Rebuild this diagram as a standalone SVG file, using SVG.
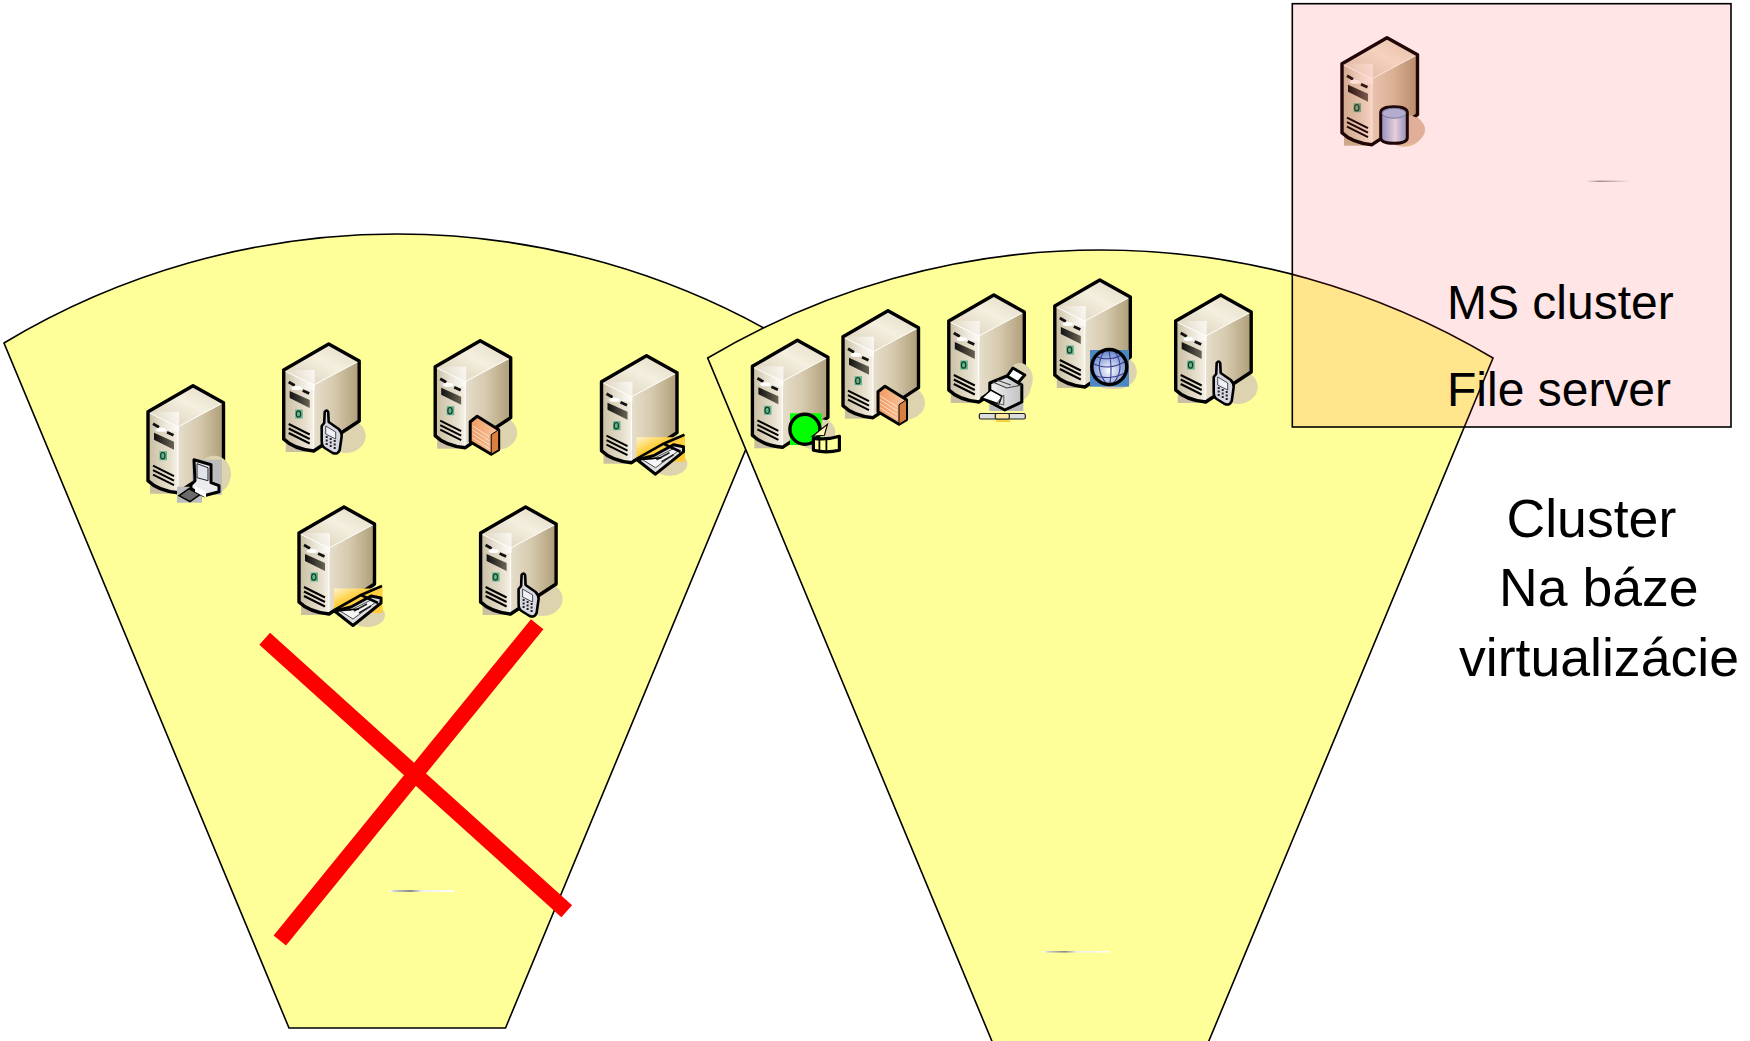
<svg xmlns="http://www.w3.org/2000/svg" xmlns:xlink="http://www.w3.org/1999/xlink" width="1750" height="1041" viewBox="0 0 1750 1041">
<style>
.fan{fill:#ffff99;stroke:#000;stroke-width:1.6}
.txt{font-family:"Liberation Sans",Arial,sans-serif;fill:#000}
.t48{font-size:48px}
.t53{font-size:53.6px}
.out{stroke:#000;stroke-width:3.4;stroke-linejoin:round;fill:none}
.ic{stroke:#000;stroke-width:3;stroke-linejoin:round}
.x{stroke:#f00;stroke-width:16;fill:none}
.vent{stroke:#000;stroke-width:2;fill:none}
.mer{stroke:#3c3c90;stroke-width:1.100;fill:none}
</style>
<defs>
<linearGradient id="gTop" x1="0" y1="1" x2="1" y2="0"><stop offset="0" stop-color="#d6cbb3"/><stop offset=".55" stop-color="#f4efdf"/><stop offset="1" stop-color="#e0d8c2"/></linearGradient>
<linearGradient id="gRight" x1="0" y1="0" x2="1" y2="0"><stop offset="0" stop-color="#e6decb"/><stop offset=".45" stop-color="#d6caae"/><stop offset="1" stop-color="#ae9d78"/></linearGradient>
<linearGradient id="gFront" x1="0" y1="0" x2="1" y2="0"><stop offset="0" stop-color="#c9bea2"/><stop offset=".75" stop-color="#e8e1cf"/><stop offset="1" stop-color="#f6f2e8"/></linearGradient>
<linearGradient id="gSq" x1="0" y1="0" x2="1" y2="0"><stop offset="0" stop-color="#fff" stop-opacity="0"/><stop offset="1" stop-color="#fff" stop-opacity=".7"/></linearGradient>
<linearGradient id="gBay" x1="0" y1="0" x2="1" y2="0"><stop offset="0" stop-color="#111"/><stop offset="1" stop-color="#6a6454"/></linearGradient>
<linearGradient id="gEnv" x1="0" y1="0" x2=".6" y2=".6"><stop offset="0" stop-color="#fff4cc"/><stop offset=".65" stop-color="#ffcc33"/></linearGradient>
<linearGradient id="gCyl" x1="0" y1="0" x2="1" y2="0"><stop offset="0" stop-color="#7f9ad0"/><stop offset=".55" stop-color="#e6e6f2"/><stop offset="1" stop-color="#7f9ad0"/></linearGradient>
<linearGradient id="gFw" x1="0" y1="0" x2="1" y2="0"><stop offset="0" stop-color="#f09a60"/><stop offset="1" stop-color="#f8c8a0"/></linearGradient>
<linearGradient id="gPr" x1="0" y1="0" x2="1" y2="0"><stop offset="0" stop-color="#fff"/><stop offset="1" stop-color="#c0c0c0"/></linearGradient>
<linearGradient id="gArt" x1="0" y1="0" x2="1" y2="0"><stop offset="0" stop-color="#fff"/><stop offset=".08" stop-color="#ccc"/><stop offset=".33" stop-color="#888"/><stop offset=".5" stop-color="#eee"/><stop offset="1" stop-color="#fff"/></linearGradient>
<linearGradient id="gArtP" x1="0" y1="0" x2="1" y2="0"><stop offset="0" stop-color="#ffe5e5"/><stop offset=".3" stop-color="#a08888"/><stop offset="1" stop-color="#ffe5e5"/></linearGradient>
<radialGradient id="gGlobe" cx=".5" cy=".6" r=".6"><stop offset="0" stop-color="#fff"/><stop offset="1" stop-color="#5a80c8"/></radialGradient>
<filter id="tint" x="-10%" y="-10%" width="120%" height="120%"><feColorMatrix type="matrix" values="1 0 0 0 0  0 .94 0 0 0  0 0 .88 0 0  0 0 0 1 0"/></filter>

<g id="server">
<ellipse cx="62" cy="92" rx="20" ry="17" fill="#ddd3ae"/>
<rect x="2" y="84" width="30" height="24" fill="#c9bfa2"/>
<path d="M0,26 L45,0 L75.500,17 L30,41 Z" fill="url(#gTop)"/>
<path d="M30,41 L75.500,17 V77 L30,107 Z" fill="url(#gRight)"/>
<path d="M0,26 L30,41 V107 Q10,105 0,95 Z" fill="url(#gFront)"/>
<rect x="2" y="26" width="29" height="20" fill="url(#gSq)"/>
<path d="M1,27 L30,41 L75.500,17" fill="none" stroke="#fff" stroke-width="1"/>
<path d="M30,41 V106" fill="none" stroke="#fff" stroke-width="1"/>
<path d="M5,38 L11,41.500 M19,46.500 L25.500,49.500" stroke="#111" stroke-width="2.800" fill="none"/>
<path d="M6,47 L26,56 V64 L6,54 Z" fill="url(#gBay)"/>
<ellipse cx="13" cy="44" rx="5" ry="2" fill="#fff"/>
<rect x="11.500" y="65.500" width="7.500" height="9" fill="#5fb48a"/>
<ellipse cx="14.800" cy="70" rx="2.200" ry="3.200" fill="none" stroke="#1a3a2a" stroke-width="1.200"/>
<path class="vent" d="M5,80 L26,90.500 M5,84.500 L26,95 M5,89 L26,99.500"/>
<path class="out" d="M0,26 L45,0 L75.500,17 V77 L30,107 Q10,105 0,95 Z"/>
</g>

<g id="phone">
<path class="ic" style="stroke-width:2.600" fill="#d8d8e2" d="M40.500,79 L41,68 Q43,65 44.500,68 L45,78 L55,85 Q58,88 58,92 L56,106 Q54,111 49,109 L41,104 Q38,102 38,97 L38,82 Z"/>
<path d="M42,82 L52,88 V95 L42,90 Z" fill="#eef2f6" stroke="#222" stroke-width=".8"/>
<path d="M42,93 h2 M46,95 h2 M50,97 h2 M42,96.500 h2 M46,98.500 h2 M50,100.500 h2 M42,100 h2 M46,102 h2 M50,104 h2" stroke="#222" stroke-width="2" fill="none"/>
</g>

<g id="firewall">
<path d="M56,112 L66,106 L66,98 L56,96 Z" fill="#d8ceb0"/>
<path class="ic" fill="url(#gFw)" d="M35,81 L42,75.500 L63.500,89 V109 L56,113.500 L35,101 Z"/>
<path d="M56,94 L63.500,89 V109 L56,113.500 Z" fill="#d88040" stroke="#000" stroke-width="1"/>
<path d="M37,85 L54,96 M37,89 L54,100 M37,93 L54,104 M37,97 L54,108" stroke="#fff" stroke-opacity=".6" stroke-width="1" fill="none"/>
</g>

<g id="fax">
<ellipse cx="68" cy="108" rx="18" ry="12" fill="#ddd3ae"/>
<rect x="35" y="81.500" width="48.500" height="24.500" fill="url(#gEnv)"/>
<path d="M36,104 L62,88 L83,79 V97 L76,102 Z" fill="#ffd040"/>
<path class="ic" fill="#e0e0e0" d="M35.500,104 L54,118.500 L82,96 V91 L72,89 L52,100 Z"/>
<path d="M41,104 L54,112 L77,95 L72,93 L52,103 Z" fill="#f6f6f6" stroke="#222" stroke-width=".8"/>
<path d="M55,104 L68,97 M60,106 L72,99" stroke="#222" stroke-width="1.600" fill="none"/>
<path d="M35.500,103 L62,88 L83,79 M62,88 L79,96" stroke="#000" stroke-width="2.600" fill="none"/>
<path d="M36,104 L60,102" stroke="#000" stroke-width="1.400" fill="none"/>
</g>

<g id="kiosk">
<ellipse cx="66" cy="88" rx="17" ry="18" fill="#ddd3ae"/>
<rect x="44" y="74" width="30" height="35" fill="#bdbdbd"/>
<rect x="29" y="101" width="25" height="16" fill="#bdbdbd"/>
<path fill="#6a6a6a" stroke="#000" stroke-width="1.500" d="M31,110 L41,103 L52,109 L42,116 Z"/>
<path class="ic" fill="#ececf0" d="M46,74 L63,79 V97 L71,100 V106 L56,110 L43,103 V99 L47,95 Z"/>
<path d="M49,78 L60,82 V95 L49,92 Z" fill="#dfe3ea" stroke="#222" stroke-width="1"/>
<path d="M47,100 L58,106 V112 L47,106 Z" fill="#fff"/>
</g>

<g id="printer">
<ellipse cx="71" cy="84" rx="13" ry="16" fill="#ddd3ae"/>
<rect x="40.500" y="87" width="34" height="29" fill="#bbbbbd"/>
<path class="ic" fill="#fff" d="M57,83 L64,73 L76,80 L68,89 Z"/>
<path class="ic" fill="url(#gPr)" d="M41,88 L58,81 L73,90 V107 L56,115 L33,103 L41,98 Z"/>
<path d="M33,103 L42,95 L53,101 L50,109 Z" fill="#fff" stroke="#000" stroke-width="1.500"/>
<path d="M44,87 L58,93 L73,90 M48,85 L62,90" stroke="#444" stroke-width="1.200" fill="none"/>
<path d="M48,108 L55,100 V110 Z" fill="none" stroke="#555" stroke-width="1"/>
<rect x="30.500" y="118.500" width="46" height="5.500" rx="1.500" fill="#ddd" stroke="#222" stroke-width="1.200"/>
<rect x="46.500" y="118.500" width="14" height="5.500" rx="1.500" fill="#ffe9a0" stroke="#222" stroke-width="1.200"/>
<rect x="47.500" y="125.500" width="14" height="1.200" fill="#f0b400"/>
</g>

<g id="globe">
<ellipse cx="56" cy="96" rx="19" ry="13" fill="#ddd3ae"/>
<rect x="35.200" y="70" width="39" height="36.700" fill="#4c87c2"/>
<circle cx="54.500" cy="87" r="17.500" fill="url(#gGlobe)"/>
<path class="mer" d="M37,83 Q54,92 71,81 M39,76 Q54,82 67,75 M38,95 Q54,101 70,93 M50,70 Q38,88 52,104 M59,70 Q72,88 58,104 M54,70 Q58,88 55,104"/>
<circle cx="54.500" cy="87" r="17.500" fill="none" stroke="#000" stroke-width="3.400"/>
</g>

<g id="disc">
<ellipse cx="68" cy="92" rx="15" ry="13" fill="#ddd3ae"/>
<rect x="37.600" y="73" width="31.700" height="31.700" fill="#0f0"/>
<circle cx="52.500" cy="89" r="15" fill="#0f0" stroke="#000" stroke-width="3.400"/>
<path d="M60,96 L75,84 L72,95 Z" fill="#fff3b0" stroke="#000" stroke-width="1.200"/>
<path class="ic" style="stroke-width:3.200" fill="#ffff99" d="M61,98 Q74,100 87,96 V110 Q74,113 61,110 Z"/>
<path d="M67,99 V111 M74,99 V112" stroke="#000" stroke-width="1.800" fill="none"/>
</g>

<g id="cylinder">
<ellipse cx="62" cy="92" rx="21" ry="15" fill="#dcc0a8"/>
<path class="ic" fill="url(#gCyl)" d="M38.700,75 Q38.700,69 52,69 Q65.300,69 65.300,75 V100 Q65.300,105.600 52,105.600 Q38.700,105.600 38.700,100 Z"/>
<ellipse cx="52" cy="75.500" rx="12" ry="5" fill="#a8bee6" stroke="#5070a0" stroke-width=".8"/>
</g>
</defs>

<rect width="1750" height="1041" fill="#fff"/>

<g id="cluster-left">
<path class="fan" d="M4,343 A763,763 0 0 1 790,343 L505.500,1028 H289 Z"/>
<rect x="389.300" y="890" width="64.700" height="2" fill="url(#gArt)"/>
</g>
<g id="cluster-right">
<path class="fan" d="M707.700,358 A767.600,767.600 0 0 1 1493,358 L1208,1043 H992.700 Z"/>
<rect x="1043" y="951" width="67" height="1.600" fill="url(#gArt)"/>
</g>

<g id="node-l1" transform="translate(148 385.700)"><use href="#server"/><use href="#kiosk"/></g>
<g id="node-l2" transform="translate(283.700 344)"><use href="#server"/><use href="#phone"/></g>
<g id="node-l3" transform="translate(435.200 340.700)"><use href="#server"/><use href="#firewall"/></g>
<g id="node-l4" transform="translate(601.500 355.700)"><use href="#server"/><use href="#fax"/></g>
<g id="node-l5" transform="translate(299 507)"><use href="#server"/><use href="#fax"/></g>
<g id="node-l6" transform="translate(480.600 507)"><use href="#server"/><use href="#phone"/></g>

<g id="node-r1" transform="translate(752.400 340.300)"><use href="#server"/><use href="#disc"/></g>
<g id="node-r2" transform="translate(843 310.700)"><use href="#server"/><use href="#firewall"/></g>
<g id="node-r3" transform="translate(948.800 295)"><use href="#server"/><use href="#printer"/></g>
<g id="node-r4" transform="translate(1054.800 280)"><use href="#server"/><use href="#globe"/></g>
<g id="node-r5" transform="translate(1175.700 295)"><use href="#server"/><use href="#phone"/></g>

<g id="cross">
<path class="x" d="M264.700,638.700 L566.700,911.200"/>
<path class="x" d="M537.200,624.200 L279.800,940.500"/>
</g>

<g id="ms-cluster">
<g transform="translate(1342 37.700)"><use href="#server" filter="url(#tint)"/><use href="#cylinder"/></g>
<rect x="1292.300" y="3.700" width="438.700" height="423.300" fill="#ff3232" fill-opacity=".127" stroke="#000" stroke-width="1.600"/>
<rect x="1586.700" y="180.600" width="43.300" height="1.400" fill="url(#gArtP)"/>
<text class="txt t48" x="1447" y="319">MS cluster</text>
<text class="txt t48" x="1447" y="406">File server</text>
</g>

<g id="caption">
<text class="txt t53" x="1506.500" y="536.500">Cluster</text>
<text class="txt t53" x="1499" y="606">Na báze</text>
<text class="txt t53" x="1459" y="675.500">virtualizácie</text>
</g>
</svg>
